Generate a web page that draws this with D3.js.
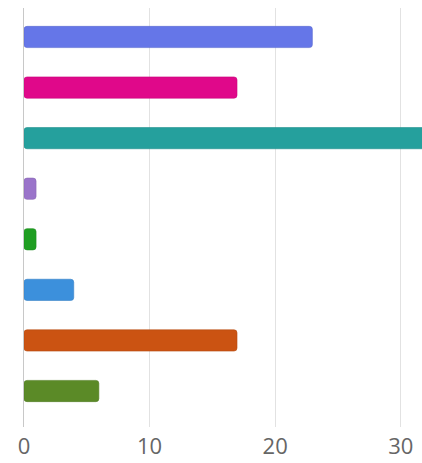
<!DOCTYPE html>
<html>
<head>
<meta charset="utf-8">
<script src="https://cdn.jsdelivr.net/npm/d3@7"></script>
<style>
  html, body { margin: 0; padding: 0; background: #fff; }
  svg { display: block; }
</style>
</head>
<body>
<div id="chart"></div>
<script>
const categories = ["A", "B", "C", "D", "E", "F", "G", "H"];
const values = [23, 17, 32, 1, 1, 4, 17, 6];
const colors = ["#6576E8", "#E0088A", "#25A09D", "#9A74CA", "#1F9E22", "#3C90DC", "#CB5312", "#5B8A27"];
const tickValues = [0, 10, 20, 30];

const W = 422, H = 463;
const svg = d3.select("#chart").append("svg").attr("width", W).attr("height", H);

const x = d3.scaleLinear().domain([0, 32]).range([23.5, 425.4]);
const y = d3.scaleBand().domain(categories).range([11.7, 416.3]).paddingInner(0.58).paddingOuter(0.29);

// gridlines
svg.append("g").selectAll("line").data(tickValues.filter(d => d !== 0)).join("line")
  .attr("x1", d => Math.round(x(d)) + 0.5).attr("x2", d => Math.round(x(d)) + 0.5)
  .attr("y1", 8).attr("y2", 427)
  .attr("stroke", "#e2e2e2").attr("stroke-width", 1);

// bars
svg.append("g").selectAll("rect").data(values).join("rect")
  .attr("x", x(0) + 0.5)
  .attr("y", (d, i) => y(categories[i]))
  .attr("width", d => Math.max(0, x(d) - x(0) - 0.5))
  .attr("height", y.bandwidth())
  .attr("rx", 3).attr("ry", 3)
  .attr("fill", (d, i) => colors[i])
  .attr("stroke", (d, i) => d3.color(colors[i]).darker(0.3))
  .attr("stroke-width", 0.6);

// zero axis line
svg.append("line")
  .attr("x1", 23.5).attr("x2", 23.5).attr("y1", 8).attr("y2", 427)
  .attr("stroke", "#c8c8c8").attr("stroke-width", 1);

// x axis labels
const axis = d3.axisBottom(x).tickValues(tickValues).tickSize(0).tickPadding(0).tickFormat(d3.format("d"));
const gx = svg.append("g").attr("transform", "translate(0,438)").call(axis);
gx.select(".domain").remove();
gx.selectAll("text")
  .attr("dy", "0.71em")
  .attr("fill", "#666")
  .style("font-family", "'Open Sans', 'Noto Sans', sans-serif")
  .style("font-size", "22px");
</script>
</body>
</html>
